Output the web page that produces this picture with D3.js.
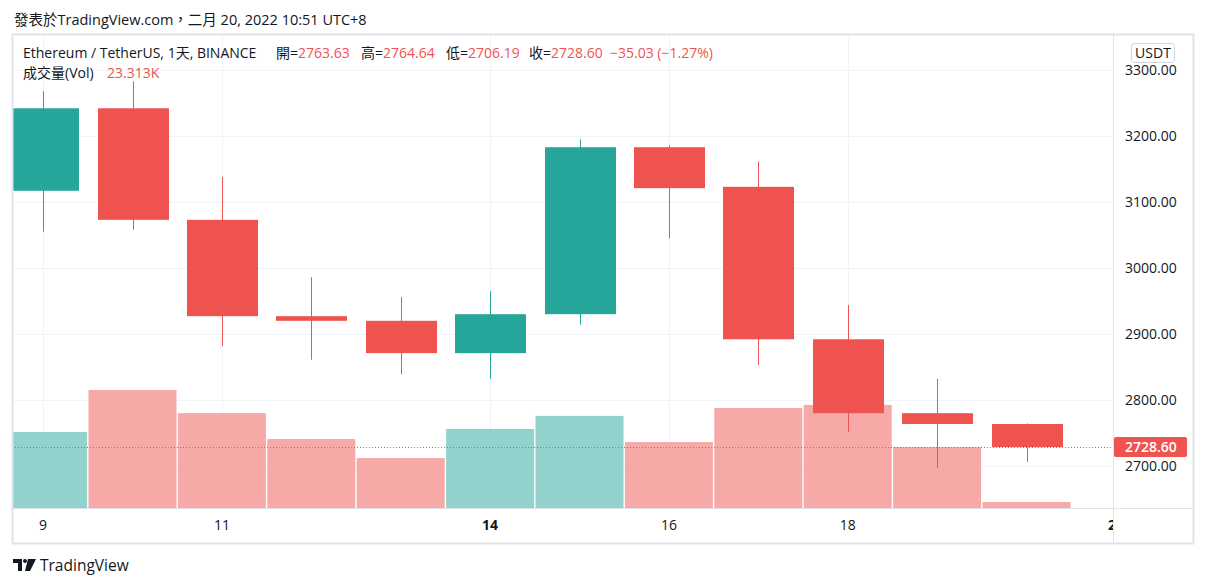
<!DOCTYPE html>
<html>
<head>
<meta charset="utf-8">
<script src="https://cdn.jsdelivr.net/npm/d3@7"></script>
<style>
  body { margin:0; background:#fff; }
  svg text { font-family: "Open Sans", "Noto Sans CJK TC", sans-serif; }
</style>
</head>
<body>
<div id="chart"></div>
<script>
// daily candles, Feb 9 .. Feb 20 2022
var days   = [9, 10, 11, 12, 13, 14, 15, 16, 17, 18, 19, 20];
var opens  = [3117, 3242, 3073, 2927, 2920, 2871, 2930, 3183, 3123, 2892, 2780, 2763.63];
var highs  = [3268, 3283, 3138, 2986, 2956, 2965, 3195, 3186, 3161, 2944, 2832, 2764.64];
var lows   = [3055, 3058, 2882, 2861, 2839, 2832, 2914, 3045, 2853, 2752, 2697, 2706.19];
var closes = [3242, 3073, 2927, 2920, 2871, 2930, 3183, 3121, 2892, 2780, 2763.63, 2728.60];
var vols   = [296, 460, 370, 269, 195, 308, 359, 257, 390, 402, 238, 23.313]; // K
var priceTicks = [2700, 2800, 2900, 3000, 3100, 3200, 3300];
var timeTicks = [9, 11, 14, 16, 18, 21];
var boldTicks = [14, 21];
var lastPrice = 2728.60;

var width = 1206, height = 587;
var up = "#26a69a", down = "#ef5350";
var upVol = "#92d2cc", downVol = "#f7a9a7";
var plotL = 12, plotR = 1113, plotT = 34, plotB = 508, outerR = 1193, outerB = 543;

var svg = d3.select("#chart").append("svg")
  .attr("width", width).attr("height", height);

var x = d3.scaleLinear().domain([9, 20]).range([43.1, 1026.5]);
var y = d3.scaleLinear().domain([2700, 3300]).range([466, 70]);
var yv = d3.scaleLinear().domain([0, 460]).range([plotB, 390]);

svg.append("clipPath").attr("id", "plot")
  .append("rect").attr("x", plotL + 1).attr("y", plotT + 1)
  .attr("width", plotR - plotL - 1).attr("height", plotB - plotT - 1);

// header
svg.append("text").attr("x", 14).attr("y", 25)
  .attr("font-size", 14.5).attr("fill", "#131722")
  .text("發表於TradingView.com，二月 20, 2022 10:51 UTC+8");

// grid
var grid = svg.append("g").attr("clip-path", "url(#plot)");
grid.selectAll(".hg").data(priceTicks).enter().append("line")
  .attr("x1", plotL).attr("x2", plotR)
  .attr("y1", function(d){ return Math.round(y(d)) + 0.5; })
  .attr("y2", function(d){ return Math.round(y(d)) + 0.5; })
  .attr("stroke", "#f0f3fa");
grid.selectAll(".vg").data(timeTicks).enter().append("line")
  .attr("y1", plotT).attr("y2", plotB)
  .attr("x1", function(d){ return Math.round(x(d)) + 0.5; })
  .attr("x2", function(d){ return Math.round(x(d)) + 0.5; })
  .attr("stroke", "#f0f3fa");

var data = days.map(function(d, i){
  return {day: d, o: opens[i], h: highs[i], l: lows[i], c: closes[i], v: vols[i]};
});

var plot = svg.append("g").attr("clip-path", "url(#plot)");

// volume
plot.selectAll(".vol").data(data).enter().append("rect")
  .attr("x", function(d){ return x(d.day) - 44; })
  .attr("width", 88)
  .attr("y", function(d){ return yv(d.v); })
  .attr("height", function(d){ return plotB - yv(d.v); })
  .attr("fill", function(d){ return d.c >= d.o ? upVol : downVol; });

// wicks
plot.selectAll(".wick").data(data).enter().append("line")
  .attr("x1", function(d){ return Math.round(x(d.day)) + 0.5; })
  .attr("x2", function(d){ return Math.round(x(d.day)) + 0.5; })
  .attr("y1", function(d){ return y(d.h); })
  .attr("y2", function(d){ return y(d.l); })
  .attr("stroke", function(d){ return d.c >= d.o ? up : down; });

// bodies
plot.selectAll(".body").data(data).enter().append("rect")
  .attr("x", function(d){ return Math.round(x(d.day)) - 35; })
  .attr("width", 71)
  .attr("y", function(d){ return y(Math.max(d.o, d.c)); })
  .attr("height", function(d){ return Math.max(1, Math.abs(y(d.o) - y(d.c))); })
  .attr("fill", function(d){ return d.c >= d.o ? up : down; });

// last price line
plot.append("line")
  .attr("x1", plotL).attr("x2", plotR)
  .attr("y1", Math.round(y(lastPrice)) + 0.5).attr("y2", Math.round(y(lastPrice)) + 0.5)
  .attr("stroke", down).attr("stroke-dasharray", "1,2");

// frame
svg.append("rect").attr("x", plotL + 0.5).attr("y", plotT + 0.5)
  .attr("width", outerR - plotL).attr("height", outerB - plotT)
  .attr("fill", "none").attr("stroke", "#e0e3eb").attr("stroke-width", 2);
svg.append("line").attr("x1", plotR + 0.5).attr("x2", plotR + 0.5)
  .attr("y1", plotT).attr("y2", outerB).attr("stroke", "#e0e3eb");
svg.append("line").attr("x1", plotL).attr("x2", outerR)
  .attr("y1", plotB + 0.5).attr("y2", plotB + 0.5).attr("stroke", "#e0e3eb");

// price axis
svg.selectAll(".pt").data(priceTicks).enter().append("text")
  .attr("x", 1125).attr("y", function(d){ return y(d) + 5; })
  .attr("font-size", 14).attr("fill", "#131722")
  .text(function(d){ return d3.format(".2f")(d); });

svg.append("rect").attr("x", 1131.5).attr("y", 43.5).attr("width", 43).attr("height", 19)
  .attr("rx", 3).attr("fill", "#fff").attr("stroke", "#d1d4dc");
svg.append("text").attr("x", 1153).attr("y", 58).attr("text-anchor", "middle")
  .attr("font-size", 14).attr("fill", "#131722").text("USDT");

svg.append("rect").attr("x", plotR + 1).attr("y", y(lastPrice) - 10)
  .attr("width", 73).attr("height", 20).attr("rx", 2).attr("fill", down);
svg.append("text").attr("x", 1125).attr("y", y(lastPrice) + 5)
  .attr("font-size", 14).attr("font-weight", 600).attr("fill", "#fff")
  .text(d3.format(".2f")(lastPrice));

// time axis
var tAxis = svg.append("g");
tAxis.append("clipPath").attr("id", "taxis")
  .append("rect").attr("x", plotL).attr("y", plotB).attr("width", plotR - plotL).attr("height", outerB - plotB);
tAxis.selectAll(".tt").data(timeTicks).enter().append("text")
  .attr("clip-path", "url(#taxis)")
  .attr("x", function(d){ return x(d); }).attr("y", 530)
  .attr("text-anchor", "middle").attr("font-size", 14).attr("fill", "#131722")
  .attr("font-weight", function(d){ return boldTicks.indexOf(d) >= 0 ? "bold" : "normal"; })
  .text(function(d){ return d; });

// legend
var leg1 = svg.append("text").attr("x", 23).attr("y", 58).attr("font-size", 14).attr("fill", "#131722")
  .attr("xml:space", "preserve");
var legParts = [
  ["Ethereum / TetherUS, 1天, BINANCE", null, 23],
  ["開=", null, 276], ["2763.63", down, null],
  ["高=", null, 361], ["2764.64", down, null],
  ["低=", null, 446], ["2706.19", down, null],
  ["收=", null, 529], ["2728.60  \u221235.03 (\u22121.27%)", down, null]
];
legParts.forEach(function(p){
  var t = leg1.append("tspan").text(p[0]);
  if (p[1]) t.attr("fill", p[1]);
  if (p[2] !== null) t.attr("x", p[2]);
});

var leg2 = svg.append("text").attr("x", 23).attr("y", 78).attr("font-size", 14).attr("fill", "#131722")
  .attr("xml:space", "preserve");
leg2.append("tspan").text("成交量(Vol)");
leg2.append("tspan").attr("x", 107).attr("fill", down).text("23.313K");

// logo
var logo = svg.append("g").attr("transform", "translate(13,559)");
logo.append("path").attr("d", "M0,0 H9 V12 H5 V4 H0 Z").attr("fill", "#131722");
logo.append("circle").attr("cx", 12).attr("cy", 2).attr("r", 2).attr("fill", "#131722");
logo.append("path").attr("d", "M15,0 H23 L17,12 H12 Z").attr("fill", "#131722");
svg.append("text").attr("x", 40).attr("y", 571).attr("font-size", 15.5).attr("fill", "#131722")
  .text("TradingView");
</script>
</body>
</html>
